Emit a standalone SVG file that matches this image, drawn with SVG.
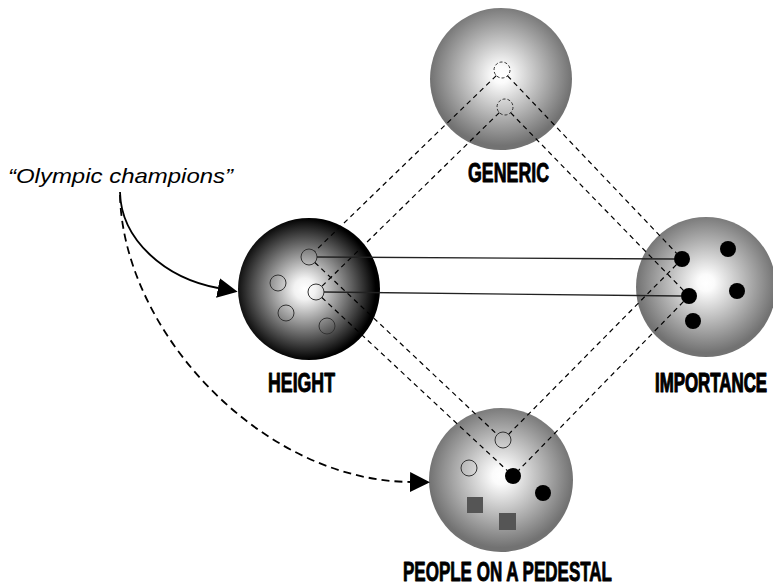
<svg xmlns="http://www.w3.org/2000/svg" width="773" height="587" viewBox="0 0 773 587">
<style>
.lbl{font-family:"Liberation Sans Narrow","Liberation Sans",Arial,sans-serif;font-weight:bold;font-size:27px;fill:#000;stroke:#000;stroke-width:0.9;stroke-linejoin:round}
.open{fill:none;stroke:#333;stroke-width:1}
.opend{fill:none;stroke:#333;stroke-width:1;stroke-dasharray:3,2}
.dot{fill:#000}
.sq{fill:#555}
.dash{fill:none;stroke:#000;stroke-width:1.2;stroke-dasharray:5,4}
.solid{fill:none;stroke:#222;stroke-width:1.3}
.curve{fill:none;stroke:#000;stroke-width:1.8}
.curved{fill:none;stroke:#000;stroke-width:1.8;stroke-dasharray:8,5}
.quote{font-family:"Liberation Sans",Arial,sans-serif;font-style:italic;font-size:21px;fill:#000}
</style>
<defs>
<radialGradient id="gGray" cx="0.5" cy="0.47" r="0.5">
<stop offset="0" stop-color="#ffffff"/>
<stop offset="0.12" stop-color="#fbfbfb"/>
<stop offset="1" stop-color="#727272"/>
</radialGradient>
<radialGradient id="gDark" cx="0.47" cy="0.5" r="0.5">
<stop offset="0" stop-color="#ffffff"/>
<stop offset="0.15" stop-color="#f2f2f2"/>
<stop offset="1" stop-color="#000000"/>
</radialGradient>
<marker id="arr" viewBox="0 0 20 20" refX="0" refY="10" markerWidth="20" markerHeight="20" markerUnits="userSpaceOnUse" orient="auto">
<path d="M0,0 L20,10 L0,20 Z" fill="#000"/>
</marker>
</defs>
<rect width="773" height="587" fill="#fff"/>

<g id="generic">
<circle cx="501" cy="79" r="71" fill="url(#gGray)"/>
<circle class="opend" cx="502" cy="70" r="8"/>
<circle class="opend" cx="505" cy="107" r="8"/>
<text class="lbl" x="468" y="182" textLength="81" lengthAdjust="spacingAndGlyphs">GENERIC</text>
</g>

<g id="height">
<circle cx="309" cy="289" r="71" fill="url(#gDark)"/>
<circle class="open" cx="309" cy="257" r="8"/>
<circle class="open" cx="278" cy="283" r="8"/>
<circle class="open" cx="316" cy="292" r="8"/>
<circle class="open" cx="286" cy="313" r="8"/>
<circle class="open" cx="327" cy="326" r="8"/>
<text class="lbl" x="268" y="392" textLength="67" lengthAdjust="spacingAndGlyphs">HEIGHT</text>
</g>

<g id="importance">
<circle cx="706" cy="287" r="70" fill="url(#gGray)"/>
<circle class="dot" cx="682" cy="259" r="8"/>
<circle class="dot" cx="728" cy="249" r="8"/>
<circle class="dot" cx="689" cy="296" r="8"/>
<circle class="dot" cx="737" cy="291" r="8"/>
<circle class="dot" cx="693" cy="321" r="8"/>
<text class="lbl" transform="translate(655,392) scale(0.625,1)" x="0" y="0" style="stroke-width:1.2">IMPORTANCE</text>
</g>

<g id="pedestal">
<circle cx="501" cy="480" r="72" fill="url(#gGray)"/>
<circle class="open" cx="503" cy="440" r="8"/>
<circle class="open" cx="469" cy="468" r="8"/>
<circle class="dot" cx="513" cy="476" r="8"/>
<circle class="dot" cx="543" cy="493" r="8"/>
<rect class="sq" x="467" y="497" width="16" height="16"/>
<rect class="sq" x="499" y="513" width="17" height="17"/>
<text class="lbl" x="403" y="581" font-size="26" textLength="209" lengthAdjust="spacingAndGlyphs">PEOPLE ON A PEDESTAL</text>
</g>

<g id="olympic">
<text class="quote" x="8" y="183" textLength="225" lengthAdjust="spacingAndGlyphs">“Olympic champions”</text>
</g>

<g id="connectors">
<line class="dash" x1="496.3" y1="75.6" x2="314.7" y2="251.4"/>
<line class="dash" x1="499.3" y1="112.6" x2="321.7" y2="286.4"/>
<line class="dash" x1="507.5" y1="75.8" x2="676.5" y2="253.2"/>
<line class="dash" x1="510.6" y1="112.7" x2="683.4" y2="290.3"/>
<line class="dash" x1="314.8" y1="262.5" x2="497.2" y2="434.5"/>
<line class="dash" x1="321.8" y1="297.5" x2="507.2" y2="470.5"/>
<line class="dash" x1="676.4" y1="264.7" x2="508.6" y2="434.3"/>
<line class="dash" x1="683.4" y1="301.7" x2="518.6" y2="470.3"/>
<line class="solid" x1="317" y1="257" x2="674" y2="259"/>
<line class="solid" x1="324" y1="292" x2="681" y2="296"/>
<path class="curve" d="M120,192 C121,240 165,278 218,288" marker-end="url(#arr)"/>
<path class="curved" d="M120,195 C123,330 260,480 410,482" marker-end="url(#arr)"/>
</g>
</svg>
